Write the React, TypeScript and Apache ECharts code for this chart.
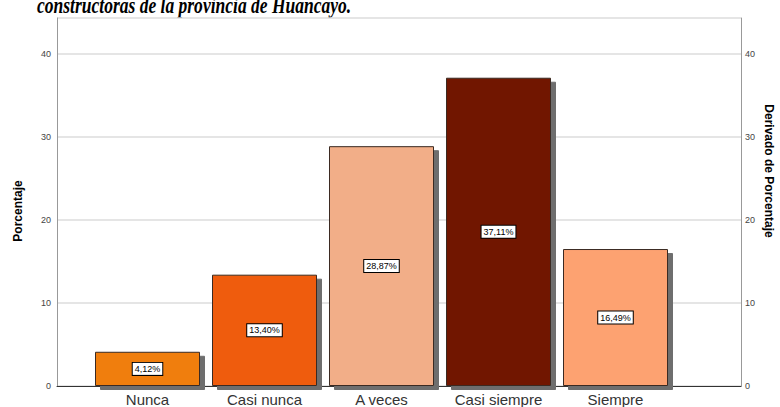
import React, { useEffect, useRef } from "react";
import * as echarts from "echarts";

const categories = ["Nunca", "Casi nunca", "A veces", "Casi siempre", "Siempre"];
const values = [4.12, 13.4, 28.87, 37.11, 16.49];
const labels = ["4,12%", "13,40%", "28,87%", "37,11%", "16,49%"];
const colors = ["#F07E0C", "#EF5B07", "#F2AE88", "#711701", "#FDA271"];
const yTicks = [0, 10, 20, 30, 40];
const title = "constructoras de la provincia de Huancayo.";

export default function App() {
  const ref = useRef<HTMLDivElement>(null);
  useEffect(() => {
    const chart = echarts.init(ref.current!, null, { renderer: "svg" });
    const yMax = 44.3;
    const top = 18;
    const bottom = 21;
    chart.setOption({
      animation: false,
      backgroundColor: "#ffffff",
      grid: [
        { left: 57, right: 39, top, bottom },
        { left: 89, right: 106, top, bottom },
      ],
      xAxis: [
        {
          gridIndex: 0,
          type: "value",
          min: 0,
          max: 1,
          show: true,
          axisLine: { show: true, onZero: false, lineStyle: { color: "#333", width: 1 } },
          axisTick: { show: false },
          axisLabel: { show: false },
          splitLine: { show: false },
        },
        {
          gridIndex: 1,
          type: "category",
          data: categories,
          axisLine: { show: false },
          axisTick: { show: false },
          axisLabel: {
            fontFamily: "Liberation Sans",
            fontSize: 15,
            color: "#333",
            margin: 6,
          },
        },
      ],
      yAxis: [
        {
          gridIndex: 0,
          type: "value",
          min: 0,
          max: yMax,
          interval: 10,
          position: "left",
          axisLine: { show: true, lineStyle: { color: "#999", width: 1 } },
          axisTick: { show: false },
          axisLabel: {
            fontFamily: "Liberation Sans",
            fontSize: 9,
            color: "#444",
            margin: 6,
            showMaxLabel: false,
            formatter: (v: number) => (yTicks.includes(v) ? String(v) : ""),
          },
          splitLine: { show: true, lineStyle: { color: "#dddddd", width: 1.5 } },
        },
        {
          gridIndex: 0,
          type: "value",
          min: 0,
          max: yMax,
          interval: 10,
          position: "right",
          axisLine: { show: true, lineStyle: { color: "#999", width: 1 } },
          axisTick: { show: false },
          axisLabel: {
            fontFamily: "Liberation Sans",
            fontSize: 9,
            color: "#444",
            margin: 4,
            showMaxLabel: false,
            formatter: (v: number) => (yTicks.includes(v) ? String(v) : ""),
          },
          splitLine: { show: false },
        },
        {
          gridIndex: 1,
          type: "value",
          min: 0,
          max: yMax,
          show: false,
        },
      ],
      series: [
        {
          type: "bar",
          xAxisIndex: 1,
          yAxisIndex: 2,
          barWidth: 105,
          data: values.map((v, i) => ({
            value: v,
            itemStyle: { color: colors[i] },
            label: { formatter: labels[i] },
          })),
          itemStyle: {
            borderColor: "#3a2a20",
            borderWidth: 1,
            shadowColor: "#6e6e6e",
            shadowBlur: 0,
            shadowOffsetX: 5,
            shadowOffsetY: 4,
          },
          label: {
            show: true,
            position: "inside",
            fontFamily: "Liberation Sans",
            fontSize: 9,
            color: "#000",
            backgroundColor: "#fff",
            borderColor: "#000",
            borderWidth: 1,
            padding: [2, 2, 1, 2],
          },
        },
      ],
      graphic: [
        {
          type: "text",
          x: 37,
          y: 5,
          scaleX: 0.73,
          style: {
            text: title,
            font: "italic bold 24px 'Liberation Serif'",
            fill: "#000",
            verticalAlign: "middle",
          },
        },
        {
          type: "text",
          x: 18,
          y: 211,
          rotation: Math.PI / 2,
          style: {
            text: "Porcentaje",
            font: "bold 12px 'Liberation Sans'",
            fill: "#000",
            align: "center",
            verticalAlign: "middle",
          },
        },
        {
          type: "text",
          x: 769,
          y: 171,
          rotation: -Math.PI / 2,
          style: {
            text: "Derivado de Porcentaje",
            font: "bold 12px 'Liberation Sans'",
            fill: "#000",
            align: "center",
            verticalAlign: "middle",
          },
        },
      ],
    });
    return () => chart.dispose();
  }, []);
  return <div ref={ref} style={{ width: 780, height: 407, position: "absolute", left: 0, top: 0 }} />;
}
